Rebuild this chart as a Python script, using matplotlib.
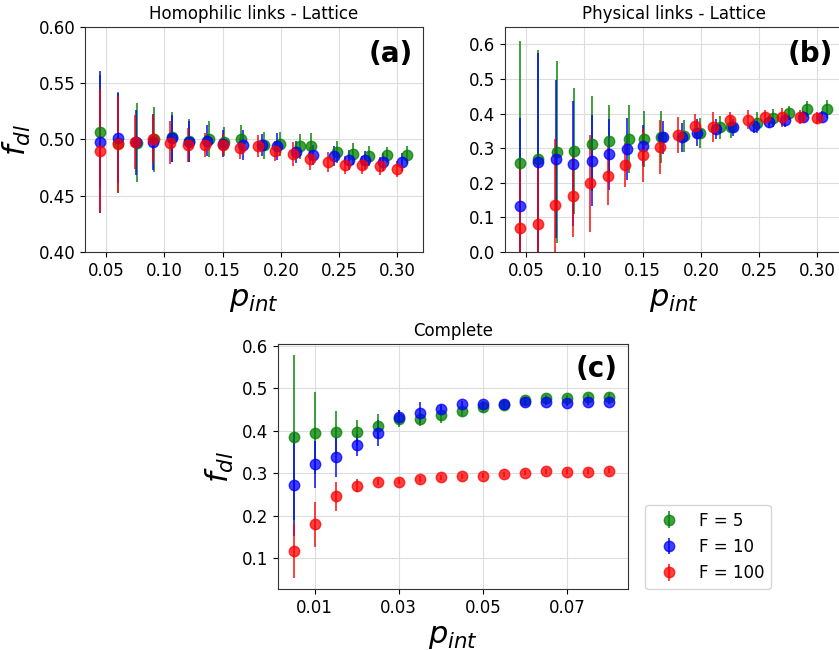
import matplotlib
matplotlib.use('Agg')
import matplotlib.pyplot as plt
import numpy as np

# p_int de las redes lattice (cada F tiene su propio valor medido)
p_f5 = [0.045, 0.060, 0.0764, 0.0911, 0.1064, 0.1209, 0.1387, 0.1511, 0.1661,
        0.1852, 0.1993, 0.2163, 0.2256, 0.2480, 0.2616, 0.2757, 0.2913, 0.3086]
p_f10 = [0.045, 0.060, 0.0759, 0.0906, 0.1064, 0.1209, 0.1364, 0.150, 0.1679,
         0.1837, 0.1964, 0.2134, 0.2279, 0.2452, 0.2587, 0.2720, 0.2879, 0.3043]
p_f100 = [0.045, 0.06, 0.075, 0.09, 0.105, 0.12, 0.135, 0.15, 0.165,
          0.18, 0.195, 0.21, 0.225, 0.24, 0.255, 0.27, 0.285, 0.30]

# (a) Homophilic links - Lattice
hom_f5 = [0.507, 0.497, 0.497, 0.500, 0.502, 0.499, 0.500, 0.498, 0.500,
          0.495, 0.496, 0.494, 0.494, 0.489, 0.487, 0.485, 0.486, 0.486]
hom_f5_err = [0.050, 0.045, 0.035, 0.029, 0.022, 0.019, 0.016, 0.013, 0.013,
              0.012, 0.011, 0.011, 0.012, 0.010, 0.010, 0.009, 0.007, 0.008]
hom_f10 = [0.4975, 0.5016, 0.4975, 0.498, 0.501, 0.498, 0.499, 0.496, 0.495,
           0.495, 0.494, 0.489, 0.486, 0.485, 0.482, 0.482, 0.480, 0.480]
hom_f10_err = [0.063, 0.040, 0.029, 0.025, 0.021, 0.018, 0.014, 0.012, 0.013,
               0.010, 0.012, 0.010, 0.009, 0.009, 0.009, 0.008, 0.008, 0.008]
hom_f100 = [0.490, 0.4957, 0.4975, 0.5004, 0.497, 0.495, 0.495, 0.495, 0.492,
            0.494, 0.490, 0.487, 0.483, 0.480, 0.477, 0.477, 0.4765, 0.474]
hom_f100_err = [0.055, 0.043, 0.024, 0.021, 0.019, 0.015, 0.011, 0.010, 0.009,
                0.010, 0.009, 0.0105, 0.010, 0.009, 0.008, 0.008, 0.008, 0.007]

# (b) Physical links - Lattice
phy_f5 = [0.258, 0.268, 0.290, 0.293, 0.3125, 0.322, 0.327, 0.327, 0.332,
          0.334, 0.343, 0.360, 0.360, 0.374, 0.387, 0.401, 0.413, 0.413]
phy_f5_err = [0.352, 0.316, 0.263, 0.182, 0.137, 0.103, 0.099, 0.081, 0.075,
              0.046, 0.043, 0.033, 0.032, 0.029, 0.027, 0.020, 0.023, 0.025]
phy_f10 = [0.134, 0.259, 0.269, 0.255, 0.264, 0.282, 0.297, 0.307, 0.331,
           0.331, 0.345, 0.355, 0.360, 0.365, 0.375, 0.380, 0.391, 0.391]
phy_f10_err = [0.253, 0.317, 0.228, 0.180, 0.132, 0.102, 0.090, 0.060, 0.048,
               0.041, 0.040, 0.030, 0.024, 0.020, 0.018, 0.018, 0.015, 0.015]
phy_f100 = [0.069, 0.082, 0.1365, 0.1625, 0.199, 0.220, 0.251, 0.279, 0.303,
            0.338, 0.365, 0.360, 0.380, 0.382, 0.389, 0.389, 0.389, 0.388]
phy_f100_err = [0.19, 0.18, 0.19, 0.118, 0.14, 0.085, 0.063, 0.077, 0.077,
                0.052, 0.035, 0.043, 0.024, 0.028, 0.020, 0.028, 0.020, 0.017]

# (c) Complete
p_comp = [0.005, 0.01, 0.015, 0.02, 0.025, 0.03, 0.035, 0.04,
          0.045, 0.05, 0.055, 0.06, 0.065, 0.07, 0.075, 0.08]
comp_f5 = [0.384, 0.394, 0.396, 0.396, 0.411, 0.428, 0.427, 0.437,
           0.447, 0.455, 0.460, 0.472, 0.476, 0.476, 0.479, 0.480]
comp_f5_err = [0.194, 0.096, 0.051, 0.029, 0.028, 0.020, 0.015, 0.018,
               0.012, 0.012, 0.008, 0.008, 0.008, 0.008, 0.008, 0.008]
comp_f10 = [0.271, 0.321, 0.3375, 0.366, 0.394, 0.431, 0.442, 0.450,
            0.463, 0.463, 0.463, 0.467, 0.467, 0.464, 0.467, 0.468]
comp_f10_err = [0.120, 0.055, 0.047, 0.025, 0.030, 0.018, 0.025, 0.010,
                0.006, 0.006, 0.006, 0.006, 0.006, 0.006, 0.006, 0.006]
comp_f100 = [0.117, 0.180, 0.245, 0.270, 0.279, 0.280, 0.286, 0.290,
             0.292, 0.294, 0.297, 0.301, 0.304, 0.303, 0.303, 0.306]
comp_f100_err = [0.064, 0.053, 0.034, 0.015, 0.008, 0.006, 0.006, 0.006,
                 0.006, 0.006, 0.006, 0.006, 0.006, 0.006, 0.006, 0.006]

labels = ['F = 5', 'F = 10', 'F = 100']
colors = ['green', 'blue', 'red']

fig = plt.figure(figsize=(8.39, 6.5), dpi=100)
ax_a = fig.add_axes([0.1013, 0.6123, 0.403, 0.3462])
ax_b = fig.add_axes([0.6019, 0.6123, 0.403, 0.3462])
ax_c = fig.add_axes([0.3313, 0.0938, 0.4172, 0.3770])


def dibujar(ax, xs, ys, errs):
    handles = []
    for x, y, e, c, lab in zip(xs, ys, errs, colors, labels):
        h = ax.errorbar(x, y, yerr=e, fmt='o', color=c, ms=7.5, elinewidth=1.4,
                        alpha=0.75, label=lab)
        handles.append(h)
    ax.grid(True, color='#dddddd', lw=0.8)
    ax.set_axisbelow(True)
    ax.tick_params(labelsize=12)
    for s in ax.spines.values():
        s.set_color('#333333')
    return handles


dibujar(ax_a, [p_f5, p_f10, p_f100], [hom_f5, hom_f10, hom_f100],
        [hom_f5_err, hom_f10_err, hom_f100_err])
ax_a.set_xlim(0.032, 0.322)
ax_a.set_ylim(0.40, 0.60)
ax_a.set_yticks([0.40, 0.45, 0.50, 0.55, 0.60])
ax_a.set_xticks([0.05, 0.10, 0.15, 0.20, 0.25, 0.30])
ax_a.set_title('Homophilic links - Lattice', fontsize=12)
ax_a.set_ylabel('$f_{dl}$', fontsize=22)
ax_a.set_xlabel('$p_{int}$', fontsize=22)
ax_a.text(0.97, 0.94, '(a)', transform=ax_a.transAxes, ha='right', va='top',
          fontsize=20, weight='bold')

dibujar(ax_b, [p_f5, p_f10, p_f100], [phy_f5, phy_f10, phy_f100],
        [phy_f5_err, phy_f10_err, phy_f100_err])
ax_b.set_xlim(0.032, 0.322)
ax_b.set_ylim(0.0, 0.65)
ax_b.set_yticks([0.0, 0.1, 0.2, 0.3, 0.4, 0.5, 0.6])
ax_b.set_xticks([0.05, 0.10, 0.15, 0.20, 0.25, 0.30])
ax_b.set_title('Physical links - Lattice', fontsize=12)
ax_b.set_xlabel('$p_{int}$', fontsize=22)
ax_b.text(0.97, 0.94, '(b)', transform=ax_b.transAxes, ha='right', va='top',
          fontsize=20, weight='bold')

handles = dibujar(ax_c, [p_comp, p_comp, p_comp], [comp_f5, comp_f10, comp_f100],
                  [comp_f5_err, comp_f10_err, comp_f100_err])
ax_c.set_xlim(0.00128, 0.0845)
ax_c.set_ylim(0.027, 0.604)
ax_c.set_yticks([0.1, 0.2, 0.3, 0.4, 0.5, 0.6])
ax_c.set_xticks([0.01, 0.03, 0.05, 0.07])
ax_c.set_title('Complete', fontsize=12)
ax_c.set_ylabel('$f_{dl}$', fontsize=22)
ax_c.set_xlabel('$p_{int}$', fontsize=22)
ax_c.text(0.97, 0.955, '(c)', transform=ax_c.transAxes, ha='right', va='top',
          fontsize=20, weight='bold')

fig.legend(handles, labels, loc='lower left', bbox_to_anchor=(0.769, 0.094),
           borderaxespad=0, fontsize=12)

fig.savefig('out.png', dpi=100)
